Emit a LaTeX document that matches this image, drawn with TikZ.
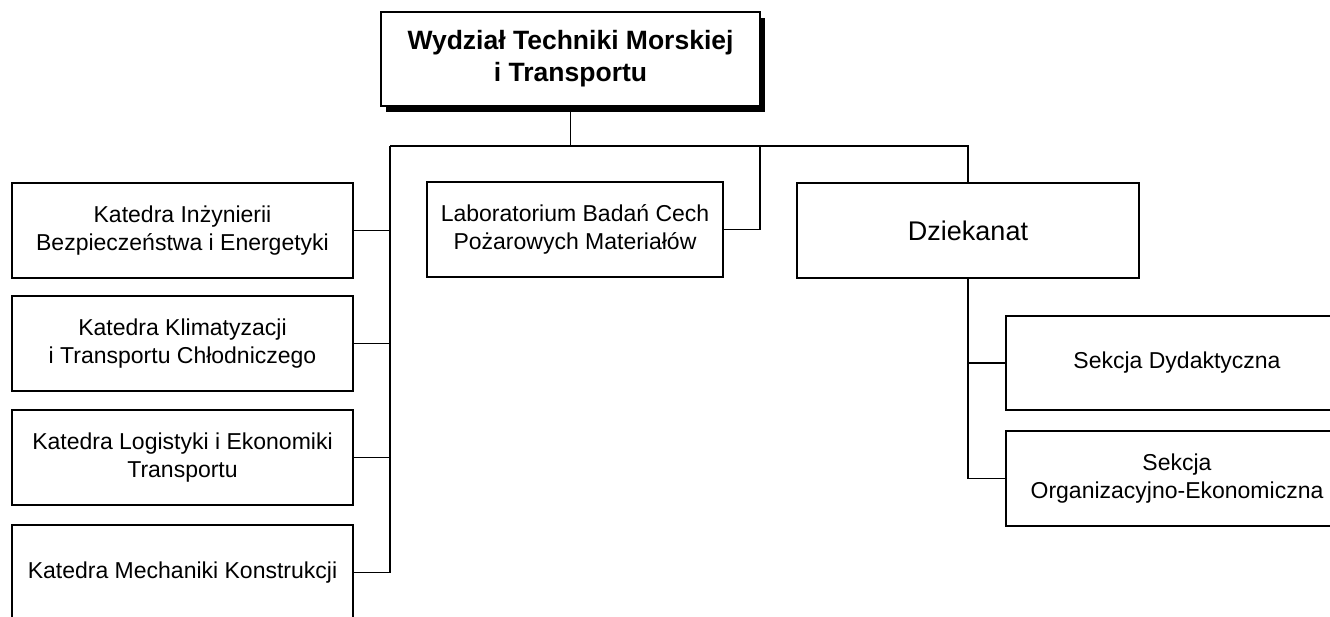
\documentclass[tikz,border=0pt]{standalone}
\usepackage{fontspec}
\setmainfont{Liberation Sans}
\usetikzlibrary{shadows}
\begin{document}
\begin{tikzpicture}[x=1pt,y=-1pt,
  unit/.style={draw, line width=1.3pt, fill=white, align=center, inner sep=0pt,
    font=\fontsize{23}{28}\selectfont},
  dept/.style={unit, minimum width=341pt, minimum height=95pt},
  link/.style={line width=1.3pt}]
\useasboundingbox (0,0) rectangle (1330,616);
\clip (0,0) rectangle (1330,616);

% faculty head
\node[unit, minimum width=379pt, minimum height=94pt,
  font=\bfseries\fontsize{26.5}{32}\selectfont,
  drop shadow={shadow xshift=5pt, shadow yshift=-6pt, fill=black, opacity=1}]
  (head) at (570.5,59) {Wydział Techniki Morskiej\\i Transportu};

% chairs
\node[dept] (k1) at (182.5,230.5) {Katedra Inżynierii\\Bezpieczeństwa i Energetyki};
\node[dept] (k2) at (182.5,343.5) {Katedra Klimatyzacji\\i Transportu Chłodniczego};
\node[dept] (k3) at (182.5,457.5) {Katedra Logistyki i Ekonomiki\\Transportu};
\node[dept] (k4) at (182.5,572.5) {Katedra Mechaniki Konstrukcji};

% laboratory and dean's office
\node[unit, minimum width=296pt, minimum height=95pt] (lab) at (575,229.5)
  {Laboratorium Badań Cech\\Pożarowych Materiałów};
\node[unit, minimum width=342pt, minimum height=95pt,
  font=\fontsize{27}{32}\selectfont] (dz) at (968,230.5) {Dziekanat};

% sections
\node[dept, minimum width=342pt, minimum height=94pt] (s1) at (1177,363) {Sekcja Dydaktyczna};
\node[dept, minimum width=342pt, minimum height=95pt] (s2) at (1177,478.5) {Sekcja\\Organizacyjno-Ekonomiczna};

% bus line
\coordinate (busL) at (390,146);
\coordinate (busR) at (968,146);
\coordinate (labTap) at (760,146);

\draw[link] (head.south) -- (head.south |- busL);
\draw[link] (busL) -- (busR) -- (dz.north);
\draw[link] (busL) |- (k4.east);
\draw[link] (k1.east) -- (k1.east -| busL);
\draw[link] (k2.east) -- (k2.east -| busL);
\draw[link] (k3.east) -- (k3.east -| busL);
\draw[link] (lab.east) -| (labTap);
\draw[link] (dz.south) |- (s2.west);
\draw[link] (s1.west) -- (s1.west -| dz.south);
\end{tikzpicture}
\end{document}
